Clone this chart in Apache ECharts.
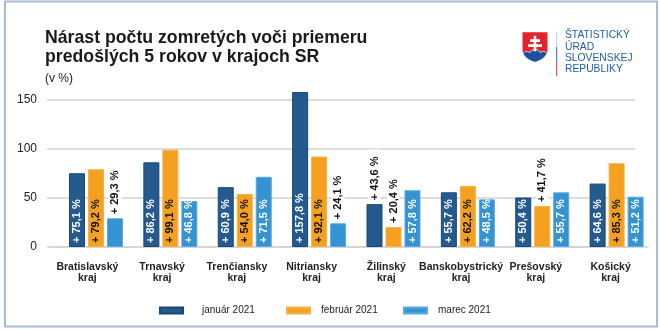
<!DOCTYPE html>
<html>
<head>
<meta charset="utf-8">
<script src="https://cdn.jsdelivr.net/npm/echarts@6/dist/echarts.min.js"></script>
<style>
  html, body { margin: 0; padding: 0; background: #fff; }
  #chart { width: 660px; height: 330px; }
</style>
</head>
<body>
<div id="chart"></div>
<script>
// Regions of Slovakia
const categories = ['Bratislavský\nkraj', 'Trnavský\nkraj', 'Trenčiansky\nkraj', 'Nitriansky\nkraj',
  'Žilinský\nkraj', 'Banskobystrický\nkraj', 'Prešovský\nkraj', 'Košický\nkraj'];
// Increase in deaths vs. the average of the previous 5 years (%)
const january = [75.1, 86.2, 60.9, 157.8, 43.6, 55.7, 50.4, 64.6];
const february = [79.2, 99.1, 54.0, 92.1, 20.4, 62.2, 41.7, 85.3];
const march = [29.3, 46.8, 71.5, 24.1, 57.8, 48.5, 55.7, 51.2];
const seriesNames = ['január 2021', 'február 2021', 'marec 2021'];
const yTicks = [0, 50, 100, 150];

const FONT = '"Liberation Sans", Arial, sans-serif';
const GRID_TOP = 99.7, GRID_BOTTOM = 83;

function fmt(v) {
  return '+ ' + v.toFixed(1).replace('.', ',') + ' %';
}

// short bars carry their label above the bar on a white plate
function withLabels(vals) {
  return vals.map(v => v < 45
    ? { value: v, label: { position: 'top', color: '#111', backgroundColor: '#fff', padding: [1, 7, 1, 1], distance: 3 } }
    : { value: v });
}

function barSeries(name, vals, fill, border, textColor) {
  return {
    name: name,
    type: 'bar',
    xAxisIndex: 1,
    yAxisIndex: 1,
    barWidth: 16,
    barGap: '18.75%',
    clip: false,
    itemStyle: { color: fill, borderColor: border, borderWidth: 1 },
    label: {
      show: true,
      position: 'insideBottom',
      rotate: 90,
      align: 'left',
      verticalAlign: 'middle',
      distance: 4,
      color: textColor,
      fontFamily: FONT,
      fontWeight: 'bold',
      fontSize: 11,
      formatter: p => fmt(p.value)
    },
    data: withLabels(vals)
  };
}

// polygon outline from a start point and a list of straight / cubic segments
function outline(start, segs) {
  const pts = [start.slice()];
  let cur = start.slice();
  segs.forEach(s => {
    if (s.length === 2) { pts.push(s.slice()); cur = s.slice(); return; }
    const [x1, y1, x2, y2, x3, y3] = s;
    for (let i = 1; i <= 10; i++) {
      const t = i / 10, u = 1 - t;
      pts.push([
        u * u * u * cur[0] + 3 * u * u * t * x1 + 3 * u * t * t * x2 + t * t * t * x3,
        u * u * u * cur[1] + 3 * u * u * t * y1 + 3 * u * t * t * y2 + t * t * t * y3
      ]);
    }
    cur = [x3, y3];
  });
  return pts;
}

const shieldPts = outline([0, 0], [[25, 0], [25, 17], [25, 24, 18.5, 28, 12.5, 30], [6.5, 28, 0, 24, 0, 17]]);
const hillPts = outline([0.6, 21.5], [
  [2.5, 18.5, 5.5, 18.5, 7.2, 20.5],
  [8.5, 16.3, 16.5, 16.3, 17.8, 20.5],
  [19.5, 18.5, 22.5, 18.5, 24.4, 21.5],
  [22.5, 25.5, 18, 28.3, 12.5, 30],
  [7, 28.3, 2.5, 25.5, 0.6, 21.5]
]);
const crossPts = [[11.2, 3.5], [13.8, 3.5], [13.8, 7], [17.5, 7], [17.5, 9.6], [13.8, 9.6], [13.8, 12],
  [19.5, 12], [19.5, 14.8], [13.8, 14.8], [13.8, 19], [11.2, 19], [11.2, 14.8], [5.5, 14.8], [5.5, 12],
  [11.2, 12], [11.2, 9.6], [7.5, 9.6], [7.5, 7], [11.2, 7]];

const legendBase = {
  top: 305.5,
  padding: 0,
  itemWidth: 23,
  itemHeight: 6,
  icon: 'rect',
  selectedMode: false,
  textStyle: { fontFamily: FONT, fontSize: 10, color: '#222' }
};

const chart = echarts.init(document.getElementById('chart'), null, { renderer: 'canvas' });
chart.setOption({
  animation: false,
  backgroundColor: '#fff',
  title: [{
    text: 'Nárast počtu zomretých voči priemeru\npredošlých 5 rokov v krajoch SR',
    left: 45, top: 28.5, padding: 0,
    textStyle: { fontFamily: FONT, fontSize: 17.7, fontWeight: 'bold', color: '#1a1a1a', lineHeight: 19 }
  }, {
    text: '(v %)',
    left: 45, top: 73, padding: 0,
    textStyle: { fontFamily: FONT, fontSize: 12, fontWeight: 'normal', color: '#222' }
  }],
  legend: [
    Object.assign({}, legendBase, { left: 159, data: [seriesNames[0]], textStyle: Object.assign({}, legendBase.textStyle, { padding: [0, 0, 0, 14] }) }),
    Object.assign({}, legendBase, { left: 286, data: [seriesNames[1]], textStyle: Object.assign({}, legendBase.textStyle, { padding: [0, 0, 0, 6] }) }),
    Object.assign({}, legendBase, { left: 403, data: [seriesNames[2]], textStyle: Object.assign({}, legendBase.textStyle, { padding: [0, 0, 0, 6] }) })
  ],
  grid: [
    // value gridlines and tick labels
    { left: 47, right: 25, top: GRID_TOP, bottom: GRID_BOTTOM },
    // bars
    { left: 58.8, right: 6.2, top: GRID_TOP, bottom: GRID_BOTTOM },
    // baseline and region names
    { left: 50, right: 12, top: GRID_TOP, bottom: GRID_BOTTOM }
  ],
  xAxis: [
    { gridIndex: 0, type: 'category', data: categories, show: false },
    { gridIndex: 1, type: 'category', data: categories, show: false },
    {
      gridIndex: 2, type: 'category', data: categories,
      axisLine: { show: true, lineStyle: { color: '#d2d2d2', width: 1.5 } },
      axisTick: { show: false },
      axisLabel: {
        interval: 0, margin: 14,
        fontFamily: FONT, fontSize: 10.5, fontWeight: 'bold', color: '#222', lineHeight: 11.5
      }
    }
  ],
  yAxis: [
    {
      gridIndex: 0, type: 'value', min: yTicks[0], max: yTicks[yTicks.length - 1], interval: 50,
      axisLine: { show: false }, axisTick: { show: false },
      splitLine: { lineStyle: { color: '#d2d2d2', width: 1.5 } },
      axisLabel: { margin: 10, fontFamily: FONT, fontSize: 12, color: '#222' }
    },
    { gridIndex: 1, type: 'value', min: 0, max: 150, show: false, splitLine: { show: false } },
    { gridIndex: 2, type: 'value', min: 0, max: 150, show: false, splitLine: { show: false } }
  ],
  series: [
    barSeries(seriesNames[0], january, '#245a8e', '#1b4776', '#fff'),
    barSeries(seriesNames[1], february, '#f5a01f', '#f2b248', '#111'),
    barSeries(seriesNames[2], march, '#3592d3', '#5aa8df', '#fff')
  ],
  graphic: [
    // outer frame
    { type: 'rect', shape: { x: 5, y: 1.5, width: 652, height: 325 },
      style: { fill: null, stroke: '#a9bed6', lineWidth: 2 }, z: 10 },
    // coat of arms
    { type: 'group', x: 522.5, y: 32.3, children: [
      { type: 'polygon', shape: { points: shieldPts }, style: { fill: '#e2232b' } },
      { type: 'polygon', shape: { points: hillPts }, style: { fill: '#1d4fa0', stroke: '#fff', lineWidth: 0.8 } },
      { type: 'polygon', shape: { points: crossPts }, style: { fill: '#fff' } }
    ] },
    // divider beside the office name
    { type: 'line', shape: { x1: 556.7, y1: 31.7, x2: 556.7, y2: 47 }, style: { stroke: '#c9c9c9', lineWidth: 1 } },
    { type: 'line', shape: { x1: 556.7, y1: 47, x2: 556.7, y2: 63 }, style: { stroke: '#2464b4', lineWidth: 1 } },
    { type: 'line', shape: { x1: 556.7, y1: 63, x2: 556.7, y2: 76 }, style: { stroke: '#e2343a', lineWidth: 1 } },
    { type: 'text', x: 565, y: 30,
      style: { text: 'ŠTATISTICKÝ\nÚRAD\nSLOVENSKEJ\nREPUBLIKY', fill: '#1d5fab',
        font: '10.3px ' + FONT, lineHeight: 11.3 } }
  ]
});
</script>
</body>
</html>
